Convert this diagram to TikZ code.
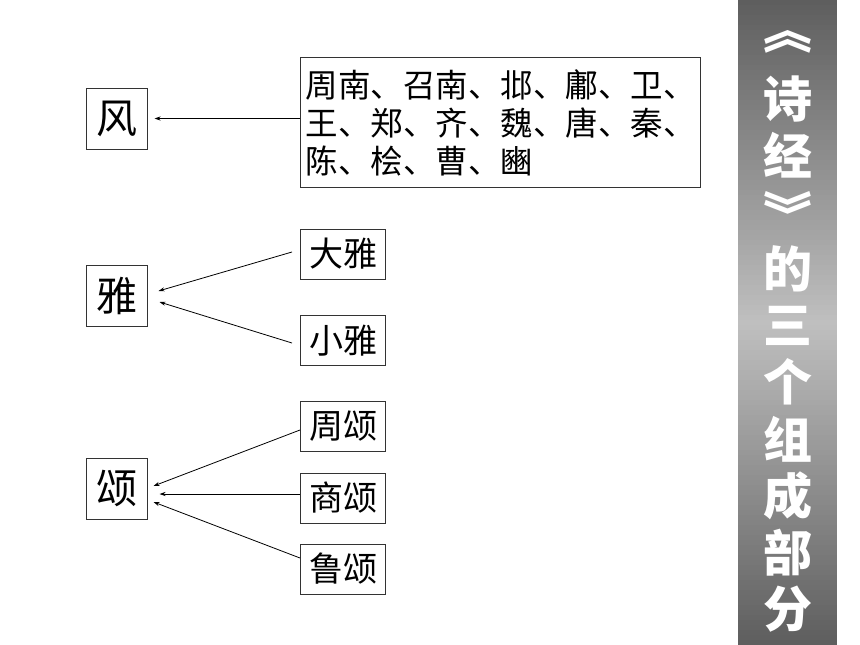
\documentclass[tikz,border=0pt]{standalone}
\usepackage{fontspec}
\usepackage[svgnames]{xcolor}
\newfontfamily\cjk{Noto Sans CJK SC}
\usetikzlibrary{arrows.meta}

\begin{document}
\begin{tikzpicture}[x=1pt, y=-1pt, -{Stealth[length=6pt,width=4pt]}, line width=0.8pt,
      every node/.append style={font=\cjk},
      box/.style={draw=black!80, line width=1pt, inner sep=0pt},
      part/.style={box, minimum width=61pt, minimum height=61pt, font=\cjk\fontsize{41}{43}\selectfont},
      sub/.style={box, minimum width=85pt, minimum height=50pt, font=\cjk\fontsize{34}{36}\selectfont}]
    \useasboundingbox (0,0) rectangle (860,645);
    % grey bar, lighter in the middle
    \foreach \k in {0,...,128} {
      \pgfmathsetmacro\shadeval{63-38*(1-abs(\k-64)/64)}
      \fill[black!\shadeval] (738,\k*5) rectangle (837,\k*5+5.5);
    }
    \tikzstyle{title} = [font=\cjk\bfseries\fontsize{49}{51}\selectfont, color=white]
    \foreach \c [count=\i from 0] in {︽,诗,经,︾,的,三,个,组,成,部,分}
      \node (title\i) [title] at (787.5,42+56.7*\i) {\c};
    % 风
    \node (feng) [part] at (116.5,118.5) {风};
    \node (guofeng) [box, anchor=north west, minimum width=400pt, minimum height=130pt,
      text width=390pt, inner xsep=5pt, align=left, font=\cjk\fontsize{32.5}{38}\selectfont]
      at (300,57) {周南、召南、邶、鄘、卫、\\王、郑、齐、魏、唐、秦、\\陈、桧、曹、豳};
    \draw (guofeng.west |- feng) -- ([xshift=7pt]feng.east);
    % 雅
    \node (ya) [part] at (116.5,296) {雅};
    \node (daya) [sub] at (343,254) {大雅};
    \node (xiaoya) [sub] at (343,340.5) {小雅};
    \draw ([xshift=-8pt,yshift=2pt]daya.west) -- ([xshift=11pt,yshift=5pt]ya.east);
    \draw ([xshift=-8pt,yshift=-2.5pt]xiaoya.west) -- ([xshift=12pt,yshift=-6pt]ya.east);
    % 颂
    \node (song) [part] at (116.5,488.5) {颂};
    \node (zhousong) [sub] at (343,426.5) {周颂};
    \node (shangsong) [sub] at (343,498) {商颂};
    \node (lusong) [sub] at (343,569) {鲁颂};
    \draw ([yshift=-3.5pt]zhousong.west) -- ([xshift=6pt,yshift=2.5pt]song.east);
    \draw ([yshift=4pt]shangsong.west) -- ([xshift=12pt,yshift=-5.5pt]song.east);
    \draw ([yshift=11pt]lusong.west) -- ([xshift=6pt,yshift=-13.5pt]song.east);
\end{tikzpicture}
\end{document}
